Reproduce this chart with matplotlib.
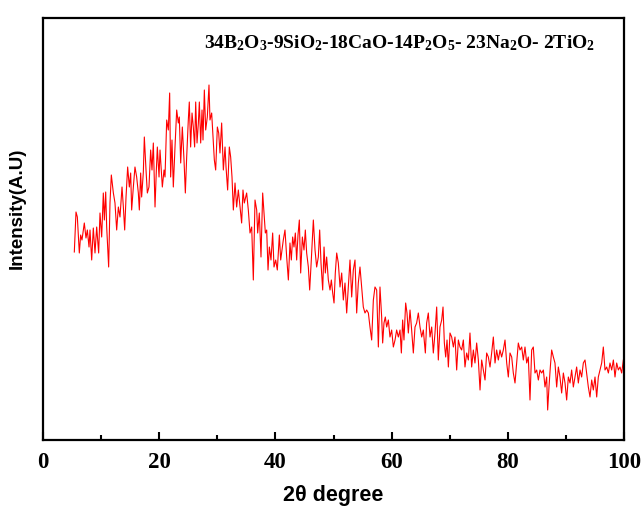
import matplotlib
matplotlib.use("Agg")
import matplotlib.pyplot as plt
from matplotlib.ticker import MultipleLocator

# 2theta (degree) and intensity (a.u.)
two_theta = [
    5.39, 5.68, 5.91, 6.25, 6.48, 6.71, 7.11, 7.40, 7.63, 7.92, 8.09, 8.38, 8.66, 8.95,
    9.24, 9.58, 9.81, 10.10, 10.38, 10.56, 10.79, 10.96, 11.30, 11.53, 11.76, 12.11,
    12.39, 12.68, 12.97, 13.25, 13.60, 13.83, 14.06, 14.29, 14.57, 14.86, 15.09, 15.26,
    15.55, 15.83, 16.12, 16.41, 16.58, 16.81, 16.98, 17.27, 17.44, 17.73, 17.96, 18.24,
    18.53, 18.76, 18.99, 19.28, 19.51, 19.68, 19.97, 20.14, 20.54, 20.83,
    21.00, 21.29, 21.57, 21.80, 21.97, 22.20, 22.43, 22.72, 23.01, 23.29, 23.46, 23.70,
    23.98, 24.27, 24.50, 24.73, 25.01, 25.18, 25.41, 25.65, 25.87, 26.10, 26.28, 26.51,
    26.74, 26.91, 27.14, 27.37, 27.54, 27.77, 28.00, 28.28, 28.57, 28.74, 29.03, 29.32,
    29.49, 29.72, 30.01, 30.24, 30.46, 30.75, 31.04, 31.33, 31.50, 31.78, 32.07, 32.30,
    32.53, 32.76, 33.05, 33.33, 33.62, 33.91, 34.19, 34.42, 34.65, 35.05, 35.34, 35.63,
    35.92, 36.20,
    36.49, 36.78, 36.95, 37.23, 37.52, 37.81, 38.04, 38.27, 38.50, 38.73, 38.96, 39.24,
    39.53, 39.76, 40.05, 40.33, 40.68, 40.91, 41.14, 41.36, 41.65, 41.94, 42.23, 42.51,
    42.74, 42.97, 43.20, 43.43, 43.66, 43.89, 44.12, 44.35, 44.64, 44.92, 45.15, 45.38,
    45.67, 45.90, 46.18, 46.53, 46.82, 47.10, 47.39, 47.62, 47.85, 48.14, 48.37, 48.59,
    48.82, 49.11, 49.40, 49.63, 49.86, 50.09, 50.31, 50.55, 50.83,
    51.12, 51.41, 51.69, 51.98, 52.27, 52.55, 52.84, 53.13, 53.41, 53.70, 53.99, 54.27,
    54.56, 54.85, 55.13, 55.42, 55.71, 56.00, 56.28, 56.57, 56.86, 57.14, 57.43, 57.72,
    58.00, 58.29, 58.46, 58.69, 58.92, 59.15, 59.44, 59.72, 60.01, 60.30, 60.59, 60.87,
    61.16, 61.45, 61.68, 61.90, 62.13, 62.42, 62.65, 62.88, 63.17, 63.45, 63.74, 64.03,
    64.31, 64.60, 64.89, 65.18, 65.46, 65.81, 66.03, 66.32, 66.61, 66.90, 67.18,
    67.47, 67.76, 68.04, 68.33, 68.62, 68.85, 69.08, 69.31, 69.54, 69.77, 70.05, 70.34,
    70.63, 70.91, 71.20, 71.49, 71.77, 72.06, 72.35, 72.63, 72.92, 73.21, 73.49, 73.78,
    74.07, 74.35, 74.64, 74.93, 75.22, 75.50, 75.79, 76.08, 76.36, 76.65, 76.94, 77.22,
    77.51, 77.80, 78.08, 78.37, 78.66, 78.94, 79.23, 79.52, 79.81, 80.09, 80.38, 80.67,
    80.95, 81.24, 81.53, 81.81, 82.10, 82.39, 82.67,
    82.96, 83.25, 83.53, 83.82, 84.11, 84.39, 84.68, 84.97, 85.26, 85.54, 85.83, 86.12,
    86.40, 86.69, 86.86, 87.09, 87.32, 87.55, 87.84, 88.12, 88.41, 88.70, 88.98, 89.27,
    89.56, 89.85, 90.13, 90.42, 90.71, 90.99, 91.28, 91.57, 91.85, 92.14, 92.43, 92.71,
    93.00, 93.29, 93.57, 93.86, 94.15, 94.44, 94.72, 95.01, 95.30, 95.58, 95.87, 96.16,
    96.44, 96.73, 97.02, 97.31, 97.59, 97.88, 98.17, 98.45, 98.74, 99.03, 99.31, 99.60,
    99.89,
]
intensity = [
    188, 228, 223, 187, 205, 200, 217, 202, 210, 193, 210, 180, 212, 187,
    213, 187, 227, 203, 247, 220, 248, 213, 173, 237, 265, 247,
    237, 210, 233, 223, 253, 233, 210, 243, 273, 253, 267, 230,
    253, 273, 263, 247, 230, 267, 243, 268, 303, 270, 247, 253,
    290, 270, 297, 233, 270, 293, 263, 290, 253, 270,
    263, 320, 310, 347, 263, 300, 253, 293, 330, 317, 323, 277,
    313, 280, 247, 283, 320, 338, 293, 327, 313, 293, 338, 297,
    317, 338, 297, 330, 300, 350, 310, 323, 355, 320, 327, 297,
    280, 270, 313, 307, 287, 317, 270, 293, 273, 250, 293, 283,
    263, 230, 257, 233, 250, 233, 217, 250, 237, 247, 230, 207,
    213, 160,
    240, 230, 207, 227, 183, 247, 227, 207, 210, 170, 193, 180,
    207, 173, 180, 170, 205, 180, 190, 200, 210, 183, 160, 197,
    180, 203, 193, 207, 180, 205, 220, 167, 203, 190, 210, 187,
    173, 150, 180, 220, 190, 173, 183, 210, 177, 150, 193, 167,
    183, 160, 150, 160, 147, 137, 167, 187, 177,
    153, 167, 140, 157, 127, 153, 180, 143, 170, 180, 127, 157,
    173, 153, 133, 127, 130, 127, 113, 100, 140, 153, 150, 93,
    153, 123, 97, 117, 123, 113, 120, 103, 110, 93, 100, 110,
    103, 110, 87, 120, 100, 137, 127, 107, 130, 110, 87, 113,
    117, 127, 113, 103, 110, 87, 117, 127, 103, 113, 87,
    107, 133, 80, 113, 120, 133, 97, 83, 100, 73, 107, 103,
    93, 103, 70, 100, 93, 90, 100, 73, 87, 80, 107, 73,
    90, 77, 97, 80, 50, 80, 70, 60, 87, 83, 73, 87,
    103, 77, 90, 80, 90, 83, 90, 100, 77, 63, 87, 83,
    67, 57, 77, 97, 90, 93, 80,
    93, 77, 83, 40, 90, 93, 67, 70, 60, 70, 67, 70,
    53, 63, 30, 53, 73, 90, 83, 77, 53, 73, 63, 47,
    67, 57, 40, 63, 57, 70, 53, 63, 73, 57, 70, 63,
    77, 80, 67, 53, 43, 60, 50, 63, 43, 63, 70, 77,
    93, 70, 73, 67, 77, 70, 80, 63, 77, 70, 73, 67,
    80,
]

title_text = ("34B$_2$O$_3$-9SiO$_2$-18CaO-14P$_2$O$_5$- 23Na$_2$O- 2TiO$_2$")

plt.rcParams["mathtext.fontset"] = "custom"
plt.rcParams["mathtext.rm"] = "Liberation Serif:bold"
plt.rcParams["mathtext.it"] = "Liberation Serif:bold"
plt.rcParams["mathtext.bf"] = "Liberation Serif:bold"

fig = plt.figure(figsize=(6.44, 5.09), dpi=100)
ax = fig.add_axes([43 / 644, 1 - 440 / 509, 581 / 644, 422 / 509])

ax.plot(two_theta, intensity, color="#ff0000", linewidth=0.8)

ax.set_xlim(0, 100)
ax.set_ylim(0, 422)
ax.xaxis.set_major_locator(MultipleLocator(20))
ax.xaxis.set_minor_locator(MultipleLocator(10))
ax.set_yticks([])
ax.tick_params(axis="x", which="major", direction="in", length=6, width=1.5, pad=9)
ax.tick_params(axis="x", which="minor", direction="in", length=3.5, width=1.5)
for s in ax.spines.values():
    s.set_linewidth(1.6)

for lab in ax.get_xticklabels():
    lab.set_fontfamily("Liberation Serif")
    lab.set_fontweight("bold")
    lab.set_fontsize(16.5)

ax.set_xlabel("2θ degree", fontfamily="Liberation Sans", fontweight="bold",
              fontsize=15.5, labelpad=8)
ax.set_ylabel("Intensity(A.U)", fontfamily="Liberation Sans", fontweight="bold",
              fontsize=13.5)
ax.yaxis.set_label_coords(-0.03, 0.55)

ax.text(0.614, 0.94, title_text, transform=ax.transAxes, ha="center", va="center",
        fontfamily="Liberation Serif", fontweight="bold", fontsize=14)

fig.savefig("out.png", dpi=100)
